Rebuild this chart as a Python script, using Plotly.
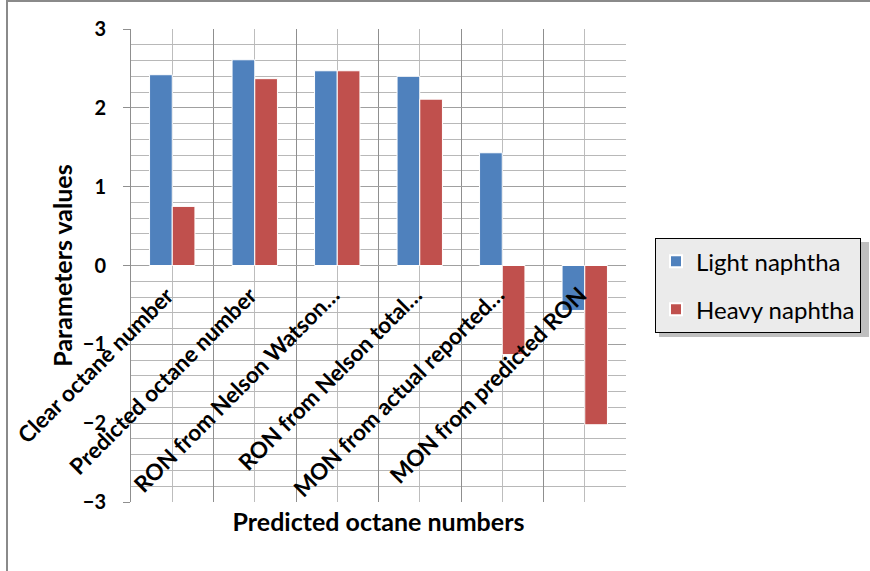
import plotly.graph_objects as go

categories = ["Clear octane number", "Predicted octane number", "RON from Nelson Watson…",
              "RON from Nelson total…", "MON from actual reported…", "MON from predicted RON"]
light_naphtha = [2.42, 2.61, 2.47, 2.40, 1.43, -0.57]
heavy_naphtha = [0.75, 2.37, 2.47, 2.11, -1.13, -2.02]
y_ticks = [-3, -2, -1, 0, 1, 2, 3]

FONT = "Lato"
idx = list(range(len(categories)))

fig = go.Figure()
fig.add_trace(go.Bar(x=idx, y=light_naphtha, name="Light naphtha", legendgroup="a",
                     marker=dict(color="#4F81BD", line=dict(color="white", width=1))))
fig.add_trace(go.Bar(x=idx, y=heavy_naphtha, name="Heavy naphtha", legendgroup="b",
                     marker=dict(color="#C0504D", line=dict(color="white", width=1))))

for i, c in enumerate(categories):
    fig.add_annotation(x=i, y=0, xref="x", yref="y", text=c, showarrow=False,
                       textangle=-45, xanchor="right", yanchor="top", xshift=10, yshift=-13,
                       font=dict(family=FONT, size=22.5, color="black", weight="bold"))

# outer border lines
fig.add_shape(type="line", xref="paper", yref="paper", x0=-0.2525, x1=1.5, y0=1.0592, y1=1.0592,
              line=dict(color="#8a8a8a", width=2))
fig.add_shape(type="line", xref="paper", yref="paper", x0=-0.2505, x1=-0.2505, y0=-0.15, y1=1.07,
              line=dict(color="#8a8a8a", width=2))
# legend shadow
fig.add_shape(type="rect", xref="paper", yref="paper", x0=1.0667, x1=1.4909, y0=0.3488, y1=0.5497,
              fillcolor="rgba(0,0,0,0.25)", line=dict(width=0), layer="below")

fig.update_layout(
    width=870, height=571,
    margin=dict(l=131, r=244, t=29, b=69, autoexpand=False),
    paper_bgcolor="white", plot_bgcolor="white",
    barmode="group", bargap=0.45, bargroupgap=0.0,
    font=dict(family=FONT, color="black"),
    xaxis=dict(range=[-0.5, 5.5], tickvals=[i - 0.5 for i in range(len(categories) + 1)],
               showticklabels=False, showgrid=True, gridcolor="#8f8f8f", gridwidth=1,
               zeroline=False, showline=False, ticks="",
               minor=dict(tickvals=idx, showgrid=True, gridcolor="#bdbdbd", gridwidth=1),
               title=dict(text="Predicted octane numbers", standoff=11,
                          font=dict(family=FONT, size=25, weight="bold"))),
    yaxis=dict(range=[-3, 3], tickvals=y_ticks, showgrid=True, gridcolor="#a0a0a0", gridwidth=1,
               zeroline=False, showline=True, linecolor="#8f8f8f", ticks="outside", ticklen=7,
               tickcolor="#8f8f8f", ticklabelstandoff=13,
               tickfont=dict(family=FONT, size=20, weight="bold"),
               minor=dict(dtick=0.2, showgrid=True, gridcolor="#b8b8b8", gridwidth=1),
               title=dict(text="Parameters values", standoff=3,
                          font=dict(family=FONT, size=25, weight="bold"))),
    legend=dict(x=1.0586, y=0.558, xanchor="left", yanchor="top",
                bgcolor="#ebebeb", bordercolor="black", borderwidth=1,
                font=dict(family=FONT, size=24), itemsizing="constant",
                traceorder="grouped", tracegroupgap=14),
    showlegend=True,
)

fig.write_html("out.html", config={"displayModeBar": False},
               post_script="document.body.style.margin='0';")
